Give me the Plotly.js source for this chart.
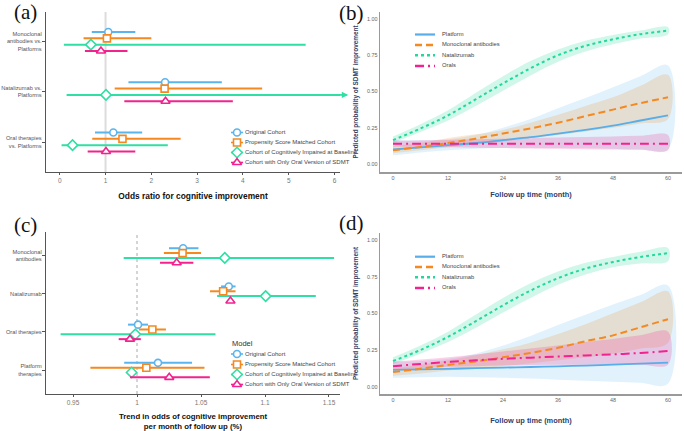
<!DOCTYPE html>
<html><head><meta charset="utf-8">
<script src="https://cdn.plot.ly/plotly-3.0.1.min.js"></script>
<style>html,body{margin:0;padding:0;background:#fff}</style>
</head><body><div id="chart" style="width:684px;height:431px"></div>
<script>
// ---------------- DATA ----------------
const seriesNames = ["Original Cohort","Propensity Score Matched Cohort","Cohort of Cognitively Impaired at Baseline","Cohort with Only Oral Version of SDMT"];

// Panel (a): odds ratio for cognitive improvement
const groupsA = ["Monoclonal<br>antibodies vs.<br>Platforms","Natalizumab vs.<br>Platforms","Oral therapies<br>vs. Platforms"];
const origA   = [1.06, 2.30, 1.17];
const origALo = [0.70, 1.50, 0.77];
const origAHi = [1.65, 3.54, 1.80];
const psmA    = [1.03, 2.29, 1.37];
const psmALo  = [0.52, 1.20, 0.71];
const psmAHi  = [2.00, 4.42, 2.64];
const ciA     = [0.68, 1.01, 0.28];
const ciALo   = [0.09, 0.15, 0.04];
const ciAHi   = [5.37, 11.8, 2.36];
const oralA   = [0.90, 2.31, 1.01];
const oralALo = [0.55, 1.41, 0.61];
const oralAHi = [1.48, 3.78, 1.65];

// Panel (c): trend in odds per month
const groupsC = ["Monoclonal<br>antibodies","Natalizumab","Oral therapies","Platform<br>therapies"];
const origC   = [1.036, 1.0717, 1.0008, 1.0164];
const origCLo = [1.025, 1.0657, 0.993, 0.990];
const origCHi = [1.048, 1.077, 1.0086, 1.043];
const psmC    = [1.0356, 1.0673, 1.012, 1.0073];
const psmCLo  = [1.021, 1.057, 1.0016, 0.9636];
const psmCHi  = [1.050, 1.077, 1.0226, 1.0527];
const ciC     = [1.0686, 1.1005, 0.9987, 0.9958];
const ciCLo   = [0.9896, 1.0626, 0.9403, 0.9958];
const ciCHi   = [1.154, 1.1397, 1.0613, 0.9958];
const oralC   = [1.031, 1.073, 0.9945, 1.0252];
const oralCLo = [1.018, 1.073, 0.9857, 0.9945];
const oralCHi = [1.044, 1.073, 1.003, 1.0569];

// Panels (b),(d): predicted probability of SDMT improvement
const months = [0, 6, 12, 18, 24, 30, 36, 42, 48, 54, 60];
const curveNames = ["Platform","Monoclonal antibodies","Natalizumab","Orals"];
// (b)
const platB   = [0.100,0.115,0.130,0.145,0.165,0.185,0.210,0.235,0.265,0.300,0.335];
const platBLo = [0.060,0.080,0.095,0.105,0.110,0.110,0.110,0.110,0.105,0.100,0.100];
const platBHi = [0.165,0.165,0.170,0.200,0.250,0.310,0.385,0.455,0.530,0.605,0.680];
const monoB   = [0.095,0.118,0.145,0.175,0.210,0.245,0.285,0.330,0.375,0.420,0.460];
const monoBLo = [0.075,0.095,0.115,0.135,0.155,0.180,0.200,0.225,0.250,0.280,0.310];
const monoBHi = [0.125,0.145,0.180,0.205,0.235,0.285,0.340,0.400,0.460,0.540,0.615];
const nataB   = [0.165,0.245,0.335,0.445,0.555,0.660,0.750,0.815,0.860,0.895,0.920];
const nataBLo = [0.145,0.220,0.300,0.400,0.505,0.610,0.705,0.775,0.825,0.865,0.895];
const nataBHi = [0.190,0.275,0.370,0.490,0.605,0.710,0.790,0.850,0.890,0.920,0.945];
const oralB   = [0.140,0.140,0.140,0.139,0.139,0.139,0.139,0.139,0.139,0.139,0.139];
const oralBLo = [0.120,0.118,0.115,0.112,0.110,0.107,0.105,0.102,0.100,0.098,0.095];
const oralBHi = [0.160,0.163,0.166,0.170,0.174,0.178,0.182,0.186,0.190,0.195,0.200];
// (d)
const platD   = [0.115,0.118,0.122,0.126,0.130,0.134,0.139,0.144,0.150,0.157,0.164];
const platDLo = [0.060,0.065,0.068,0.065,0.060,0.055,0.048,0.040,0.034,0.027,0.020];
const platDHi = [0.170,0.175,0.190,0.225,0.280,0.345,0.420,0.490,0.560,0.625,0.690];
const monoD   = [0.100,0.122,0.148,0.172,0.200,0.230,0.265,0.310,0.350,0.405,0.460];
const monoDLo = [0.075,0.090,0.110,0.125,0.140,0.160,0.180,0.200,0.225,0.260,0.300];
const monoDHi = [0.125,0.150,0.180,0.215,0.255,0.300,0.360,0.425,0.500,0.575,0.650];
const nataD   = [0.175,0.250,0.340,0.445,0.555,0.655,0.740,0.805,0.850,0.885,0.910];
const nataDLo = [0.155,0.225,0.305,0.400,0.505,0.605,0.695,0.765,0.815,0.840,0.855];
const nataDHi = [0.200,0.280,0.375,0.490,0.605,0.705,0.785,0.845,0.885,0.920,0.945];
const oralD   = [0.140,0.155,0.168,0.180,0.190,0.198,0.205,0.213,0.220,0.230,0.243];
const oralDLo = [0.110,0.125,0.135,0.140,0.145,0.148,0.150,0.150,0.150,0.150,0.150];
const oralDHi = [0.170,0.185,0.200,0.220,0.240,0.260,0.280,0.305,0.325,0.350,0.375];

// ---------------- STYLE ----------------
const W = 684, H = 431;
const FONT = "Liberation Sans, Arial, sans-serif";
const cBlue = "#5AB4EE", cOrange = "#F5891F", cGreen = "#2FDFA3", cPink = "#F2228E";
const ptColors = [cBlue, cOrange, cGreen, cPink];
const ptSymbols = ["circle","square","diamond","triangle-up"];
const ptSizes = [7, 7, 8, 8];
const dodge = [-0.19, -0.063, 0.063, 0.19];
const slate = "#2F4068";

const dx = (l, r) => [l / W, r / W];
const dy = (t, b) => [1 - b / H, 1 - t / H];

const traces = [];

function forest(xa, ya, vals, los, his) {
  for (let s = 0; s < 4; s++) {
    const v = vals[s], lo = los[s], hi = his[s];
    traces.push({
      type: "scatter", mode: "markers", xaxis: xa, yaxis: ya, showlegend: false, hoverinfo: "skip",
      x: v, y: v.map((_, g) => g + dodge[s]),
      error_x: { type: "data", symmetric: false, array: v.map((d, i) => hi[i] - d), arrayminus: v.map((d, i) => d - lo[i]),
                 width: 0, thickness: 2, color: ptColors[s] },
      marker: { symbol: ptSymbols[s], size: ptSizes[s], color: "white", line: { color: ptColors[s], width: 1.6 } }
    });
  }
}
forest("x", "y", [origA, psmA, ciA, oralA], [origALo, psmALo, ciALo, oralALo], [origAHi, psmAHi, ciAHi, oralAHi]);
forest("x3", "y3", [origC, psmC, ciC, oralC], [origCLo, psmCLo, ciCLo, oralCLo], [origCHi, psmCHi, ciCHi, oralCHi]);

const curveColors = ["#58AEE8", cOrange, "#22D99A", cPink];
const bandFills = ["rgba(120,195,242,0.22)", "rgba(240,140,40,0.2)", "rgba(46,220,160,0.22)", "rgba(240,40,150,0.22)"];
const dashes = ["solid", "7px,4px", "3px,3px", "9px,4px,2px,4px"];
const widths = [1.8, 2, 2, 2];

function curves(xa, ya, mids, los, his) {
  for (let s = 0; s < 4; s++) {
    traces.push({
      type: "scatter", mode: "lines", xaxis: xa, yaxis: ya, showlegend: false, hoverinfo: "skip",
      x: months.concat(months.slice().reverse()),
      y: los[s].concat(his[s].slice().reverse()),
      fill: "toself", fillcolor: bandFills[s], line: { width: 0, shape: "spline" }
    });
  }
  for (let s = 0; s < 4; s++) {
    traces.push({
      type: "scatter", mode: "lines", xaxis: xa, yaxis: ya, showlegend: false, hoverinfo: "skip",
      x: months, y: mids[s], line: { color: curveColors[s], width: widths[s], dash: dashes[s], shape: "spline" }
    });
  }
}
curves("x2", "y2", [platB, monoB, nataB, oralB], [platBLo, monoBLo, nataBLo, oralBLo], [platBHi, monoBHi, nataBHi, oralBHi]);
curves("x4", "y4", [platD, monoD, nataD, oralD], [platDLo, monoDLo, nataDLo, oralDLo], [platDHi, monoDHi, nataDHi, oralDHi]);

// ---------------- LEGENDS (compact, drawn in helper subplots in px units) ----------------
const legendAxes = {};
function legendBox(id, l, t, w, h) {
  legendAxes["xaxis" + id] = { domain: dx(l, l + w), range: [0, w], visible: false, fixedrange: true, anchor: "y" + id };
  legendAxes["yaxis" + id] = { domain: dy(t, t + h), range: [h, 0], visible: false, fixedrange: true, anchor: "x" + id };
}
function markerLegend(id, rowY) {
  for (let s = 0; s < 4; s++) {
    traces.push({
      type: "scatter", mode: "markers", xaxis: "x" + id, yaxis: "y" + id, showlegend: false, hoverinfo: "skip",
      x: [9], y: [rowY[s]],
      error_x: { type: "constant", value: 6, width: 0, thickness: 1.6, color: ptColors[s] },
      marker: { symbol: ptSymbols[s], size: ptSizes[s], color: "white", line: { color: ptColors[s], width: 1.6 } }
    });
  }
  traces.push({
    type: "scatter", mode: "text", xaxis: "x" + id, yaxis: "y" + id, showlegend: false, hoverinfo: "skip",
    x: rowY.map(() => 17), y: rowY, text: seriesNames, textposition: "middle right",
    textfont: { family: FONT, size: 6, color: "#444" }, cliponaxis: false
  });
}
function lineLegend(id, rowY) {
  for (let s = 0; s < 4; s++) {
    traces.push({
      type: "scatter", mode: "lines", xaxis: "x" + id, yaxis: "y" + id, showlegend: false, hoverinfo: "skip",
      x: [7, 27], y: [rowY[s], rowY[s]], line: { color: curveColors[s], width: widths[s] + 0.4, dash: dashes[s] }
    });
  }
  traces.push({
    type: "scatter", mode: "text", xaxis: "x" + id, yaxis: "y" + id, showlegend: false, hoverinfo: "skip",
    x: rowY.map(() => 34), y: rowY, text: curveNames, textposition: "middle right",
    textfont: { family: FONT, size: 5.8, color: "#444" }, cliponaxis: false
  });
}
legendBox(5, 228, 125, 117, 45);  markerLegend(5, [7.5, 17.5, 27.5, 37.5]);
legendBox(6, 228, 338, 117, 52);  markerLegend(6, [16, 26.5, 36.5, 46.5]);
legendBox(7, 408, 28, 100, 45);   lineLegend(7, [6.5, 17, 27.3, 38]);
legendBox(8, 408, 250, 100, 45);  lineLegend(8, [6.7, 17, 27.3, 38]);

// ---------------- AXES ----------------
const forestX = (dom, range, tv, anchor, title, so, fs) => ({
  domain: dom, range: range, anchor: anchor, tickvals: tv, showgrid: false, zeroline: false,
  showline: true, linecolor: "#555", linewidth: 1.2, ticks: "outside", ticklen: 2, tickcolor: "#555",
  tickfont: { family: FONT, size: 6.5, color: "#777" },
  title: { text: title, font: { family: FONT, size: fs, color: "#111", weight: "bold" }, standoff: so }
});
const forestY = (dom, range, tt, anchor) => ({
  domain: dom, range: range, anchor: anchor, tickvals: tt.map((_, i) => i), ticktext: tt,
  showgrid: false, zeroline: false, showline: true, linecolor: "#555", linewidth: 1.2,
  ticks: "outside", ticklen: 3, tickcolor: "#555", ticklabelstandoff: -1,
  tickfont: { family: FONT, size: 5.7, color: "#555" }
});
const probX = (dom, anchor, so) => ({
  domain: dom, range: [-2.84, 63.06], anchor: anchor, tickvals: [0, 12, 24, 36, 48, 60], showgrid: false, zeroline: false,
  showline: true, linecolor: "#9a9a9a", linewidth: 1.5, ticks: "", tickfont: { family: FONT, size: 5.4, color: "#666" },
  title: { text: "Follow up time (month)", font: { family: FONT, size: 7.4, color: slate, weight: "bold" }, standoff: so }
});
const probY = (dom, range, anchor) => ({
  domain: dom, range: range, anchor: anchor, tickvals: [0, 0.25, 0.5, 0.75, 1], tickformat: ".2f", showgrid: false, zeroline: false,
  showline: true, linecolor: "#9a9a9a", linewidth: 1.5, ticks: "", tickfont: { family: FONT, size: 5.4, color: "#666" },
  title: { text: "Predicted probability of SDMT improvement", font: { family: FONT, size: 6.4, color: slate, weight: "bold" }, standoff: 7 }
});

const panelFont = { family: "Liberation Serif, serif", size: 21, color: "#111" };
const layout = Object.assign({
  width: W, height: H, margin: { l: 0, r: 0, t: 0, b: 0 }, paper_bgcolor: "white", plot_bgcolor: "white",
  showlegend: false, font: { family: FONT },
  xaxis: forestX(dx(46, 340), [-0.3, 6.12], [0, 1, 2, 3, 4, 5, 6], "y", "Odds ratio for cognitive improvement", 10, 8.4),
  yaxis: forestY(dy(12, 172), [2.597, -0.587], groupsA, "x"),
  xaxis2: probX(dx(380, 682), "y2", 12),
  yaxis2: probY(dy(12, 172), [-0.055, 1.048], "x2"),
  xaxis3: forestX(dx(46, 340), [0.9289, 1.1586], [0.95, 1.00, 1.05, 1.10, 1.15], "y3",
                  "Trend in odds of cognitive improvement<br>per month of follow up (%)", 9, 7.8),
  yaxis3: forestY(dy(232, 394), [3.626, -0.615], groupsC, "x3"),
  xaxis4: probX(dx(380, 682), "y4", 16),
  yaxis4: probY(dy(233, 394), [-0.05, 1.048], "x4"),
  shapes: [
    { type: "line", xref: "x", yref: "y domain", x0: 1, x1: 1, y0: 0, y1: 1, line: { color: "#dcdcdc", width: 2 }, layer: "below" },
    { type: "line", xref: "x3", yref: "y3 domain", x0: 1, x1: 1, y0: 0, y1: 1, line: { color: "#aaaaaa", width: 1, dash: "dot" }, layer: "below" }
  ],
  annotations: [
    { xref: "paper", yref: "paper", x: 25 / W, y: 1 - 12 / H, xanchor: "center", yanchor: "middle", text: "(a)", showarrow: false, font: panelFont },
    { xref: "paper", yref: "paper", x: 351 / W, y: 1 - 13 / H, xanchor: "center", yanchor: "middle", text: "(b)", showarrow: false, font: panelFont },
    { xref: "paper", yref: "paper", x: 25 / W, y: 1 - 225 / H, xanchor: "center", yanchor: "middle", text: "(c)", showarrow: false, font: panelFont },
    { xref: "paper", yref: "paper", x: 351 / W, y: 1 - 223 / H, xanchor: "center", yanchor: "middle", text: "(d)", showarrow: false, font: panelFont },
    { xref: "paper", yref: "paper", x: 230 / W, y: 1 - 343 / H, text: "Model", showarrow: false, xanchor: "left", yanchor: "middle", font: { family: FONT, size: 7.5, color: "#333" } },
    // arrow for truncated CI of natalizumab (cognitively impaired cohort)
    { xref: "x", yref: "y", x: 6.3, y: 1 + dodge[2], axref: "x", ayref: "y", ax: 6.0, ay: 1 + dodge[2], text: "",
      showarrow: true, arrowhead: 2, arrowsize: 0.8, arrowwidth: 1.6, arrowcolor: cGreen }
  ]
}, legendAxes);

Plotly.newPlot("chart", traces, layout, { displayModeBar: false, staticPlot: true });
</script></body></html>
